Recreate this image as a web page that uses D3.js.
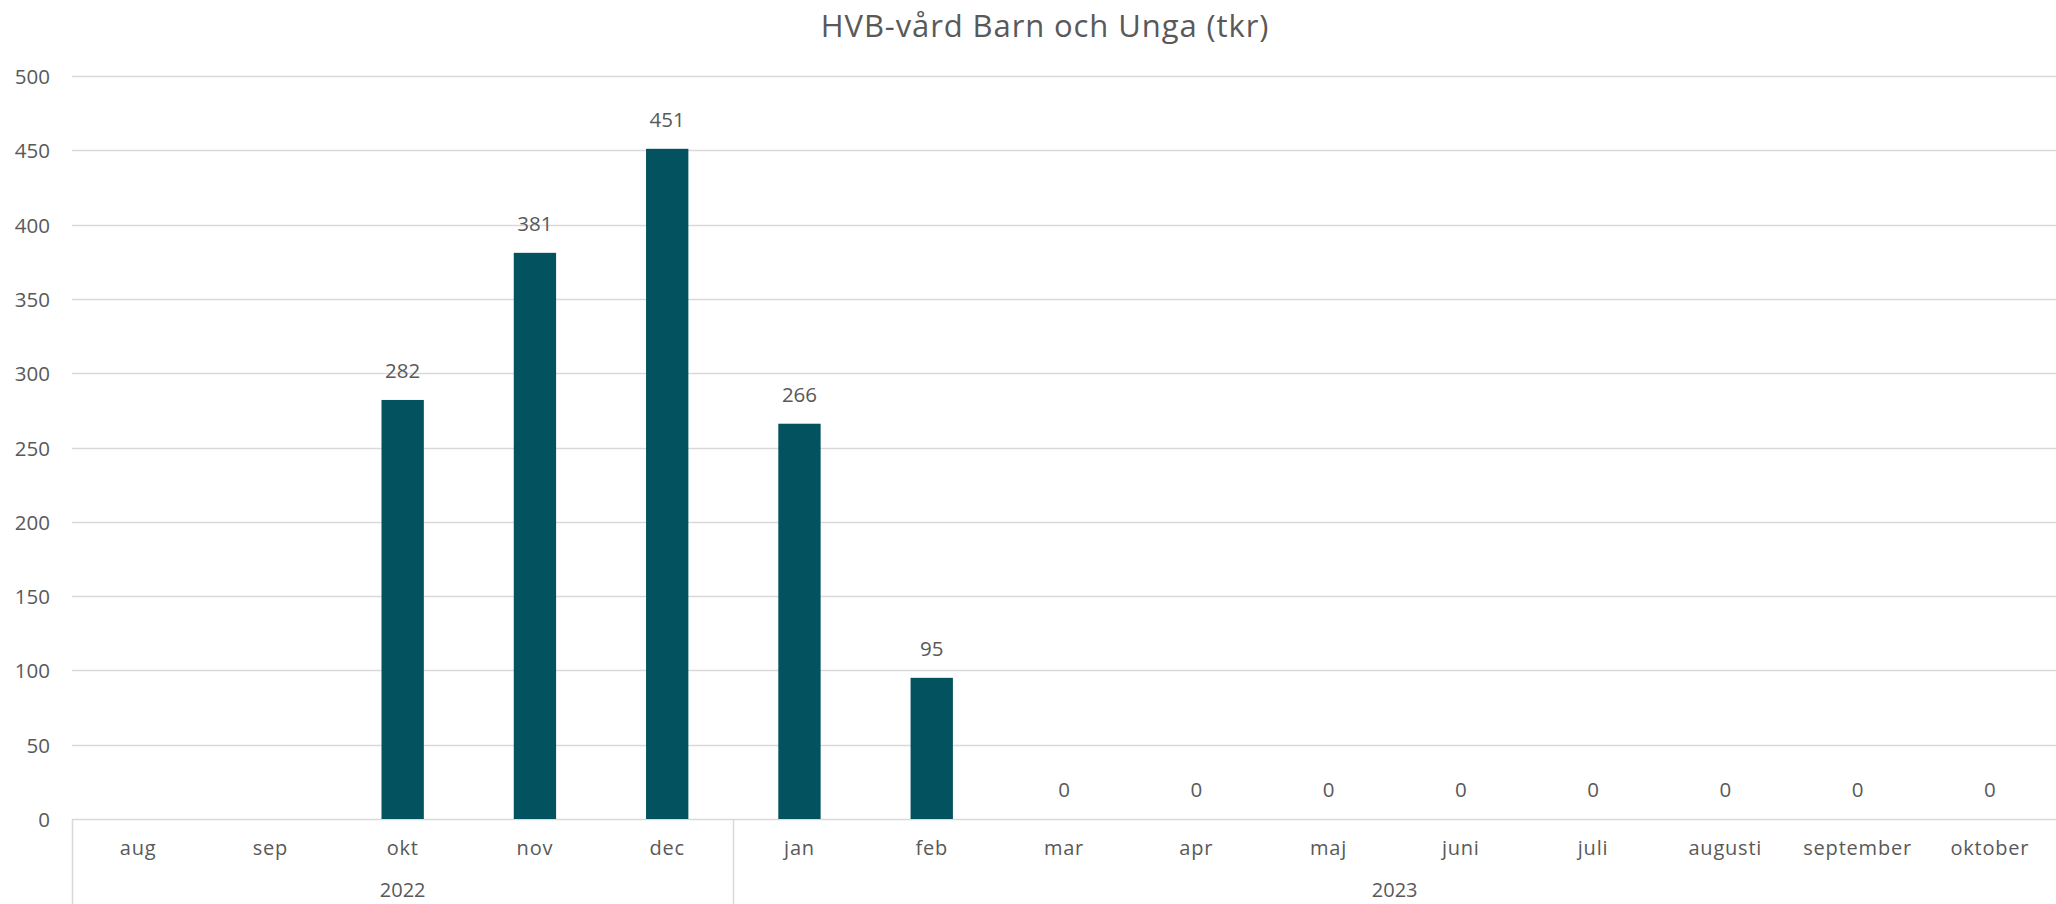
<!DOCTYPE html>
<html>
<head>
<meta charset="utf-8">
<script src="https://cdn.jsdelivr.net/npm/d3@7"></script>
<style>
  html, body { margin: 0; padding: 0; background: #ffffff; }
  svg { display: block; }
  text { font-family: "Open Sans", "Noto Sans", sans-serif; fill: #595959; }
</style>
</head>
<body>
<svg id="chart" width="2056" height="904"></svg>
<script>
// ---- data ----
const title = "HVB-vård Barn och Unga (tkr)";
const months = ["aug", "sep", "okt", "nov", "dec", "jan", "feb", "mar", "apr", "maj", "juni", "juli", "augusti", "september", "oktober"];
const years = ["2022", "2022", "2022", "2022", "2022", "2023", "2023", "2023", "2023", "2023", "2023", "2023", "2023", "2023", "2023"];
const values = [null, null, 282, 381, 451, 266, 95, 0, 0, 0, 0, 0, 0, 0, 0];
const yearGroups = ["2022", "2023"];
const yTicks = [0, 50, 100, 150, 200, 250, 300, 350, 400, 450, 500];

(function () {
// ---- layout ----
const W = 2056, H = 904;
const mLeft = 72, mRight = 2056, mTop = 76, mBottom = 819;
const barColor = "#02525f";
const gridColor = "#d9d9d9";

const svg = d3.select("#chart");
const keys = months.map((m, i) => years[i] + "-" + m);

const x = d3.scaleBand().domain(keys).range([mLeft, mRight]).paddingInner(0.68).paddingOuter(0.34);
const y = d3.scaleLinear().domain([0, 500]).range([mBottom, mTop]);

// title
svg.append("text")
  .attr("x", 1045).attr("y", 25)
  .attr("text-anchor", "middle").attr("dominant-baseline", "central")
  .style("font-size", "31px").style("letter-spacing", "0.9px")
  .text(title);

// gridlines
svg.append("g").selectAll("line").data(yTicks).join("line")
  .attr("x1", mLeft).attr("x2", mRight)
  .attr("y1", d => Math.round(y(d)) + 0.5).attr("y2", d => Math.round(y(d)) + 0.5)
  .attr("stroke", gridColor).attr("stroke-width", 1.5);

// y-axis labels
svg.append("g").selectAll("text").data(yTicks).join("text")
  .attr("x", 50).attr("y", d => y(d))
  .attr("text-anchor", "end").attr("dominant-baseline", "central")
  .style("font-size", "20.5px")
  .text(d => d);

// bars
const data = keys.map((k, i) => ({ key: k, value: values[i] }));
svg.append("g").selectAll("rect").data(data.filter(d => d.value !== null && d.value > 0)).join("rect")
  .attr("x", d => x(d.key)).attr("width", x.bandwidth())
  .attr("y", d => y(d.value)).attr("height", d => y(0) - y(d.value))
  .attr("fill", barColor);

// data labels
svg.append("g").selectAll("text").data(data.filter(d => d.value !== null)).join("text")
  .attr("x", d => x(d.key) + x.bandwidth() / 2)
  .attr("y", d => y(d.value) - 30)
  .attr("text-anchor", "middle").attr("dominant-baseline", "central")
  .style("font-size", "20.5px")
  .text(d => d.value);

// category axis: month labels
const step = x.step();
svg.append("g").selectAll("text").data(keys).join("text")
  .attr("x", d => x(d) + x.bandwidth() / 2)
  .attr("y", 847)
  .attr("text-anchor", "middle").attr("dominant-baseline", "central")
  .style("font-size", "20px").style("letter-spacing", "0.8px")
  .text((d, i) => months[i]);

// year groups
const groupInfo = yearGroups.map(yr => {
  const idx = years.map((v, i) => v === yr ? i : -1).filter(i => i >= 0);
  const x0 = x(keys[idx[0]]) - x.paddingOuter() * step;
  const x1 = x(keys[idx[idx.length - 1]]) - x.paddingOuter() * step + step;
  return { yr, x0, x1 };
});
svg.append("g").selectAll("line").data(groupInfo.map(g => g.x0)).join("line")
  .attr("x1", d => Math.round(d) + 0.5).attr("x2", d => Math.round(d) + 0.5)
  .attr("y1", mBottom).attr("y2", H)
  .attr("stroke", gridColor).attr("stroke-width", 1.5);
svg.append("g").selectAll("text").data(groupInfo).join("text")
  .attr("x", d => (d.x0 + d.x1) / 2).attr("y", 889)
  .attr("text-anchor", "middle").attr("dominant-baseline", "central")
  .style("font-size", "20px")
  .text(d => d.yr);
})();
</script>
</body>
</html>
